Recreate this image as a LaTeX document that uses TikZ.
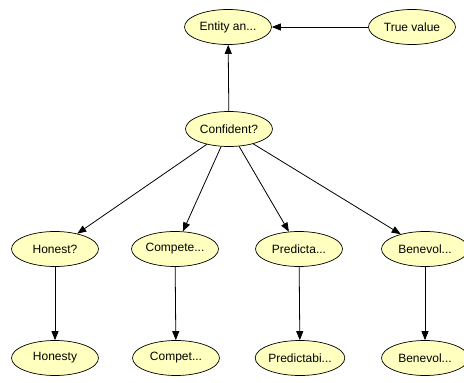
\documentclass[tikz,border=0pt]{standalone}
\usepackage{fontspec}
\setmainfont{Liberation Sans}
\usetikzlibrary{shapes.geometric,arrows.meta}
\definecolor{nodefill}{RGB}{255,255,192}
\tikzset{
  bnode/.style={ellipse, draw=black, line width=0.7pt, fill=nodefill,
    minimum width=87pt, minimum height=35pt, inner sep=0pt,
    font=\fontsize{12}{14}\selectfont},
  link/.style={draw=black, line width=0.8pt,
    -{Triangle[length=9pt,width=7pt]}}
}
\begin{document}
\begin{tikzpicture}[x=1pt,y=-1pt]
  \useasboundingbox (0,0) rectangle (464,383);
  \clip (0,0) rectangle (464,383);
  \fill[white] (0,0) rectangle (464,383);

  % top row
  \node[bnode] (entity) at (228,27) {Entity an...};
  \node[bnode] (truev)  at (412,27) {True value};
  % hub
  \node[bnode] (conf)   at (229,129) {Confident?};
  % middle row
  \node[bnode] (hon)    at (55,249)  {Honest?};
  \node[bnode] (compa)  at (175,249) {Compete...};
  \node[bnode] (preda)  at (299,249) {Predicta...};
  \node[bnode] (bena)   at (425,249) {Benevol...};
  % bottom row
  \node[bnode] (hony)   at (55,358)  {Honesty};
  \node[bnode] (compb)  at (176,358) {Compet...};
  \node[bnode] (predb)  at (300,358) {Predictabi...};
  \node[bnode] (benb)   at (425,358) {Benevol...};

  % connectors
  \draw[link] (truev) -- (entity);
  \draw[link] (conf) -- (entity);
  \draw[link] (conf) -- (hon);
  \draw[link] (conf) -- (compa);
  \draw[link] (conf) -- (preda);
  \draw[link] (conf) -- (bena);
  \draw[link] (hon) -- (hony);
  \draw[link] (compa) -- (compb);
  \draw[link] (preda) -- (predb);
  \draw[link] (bena) -- (benb);
\end{tikzpicture}
\end{document}
